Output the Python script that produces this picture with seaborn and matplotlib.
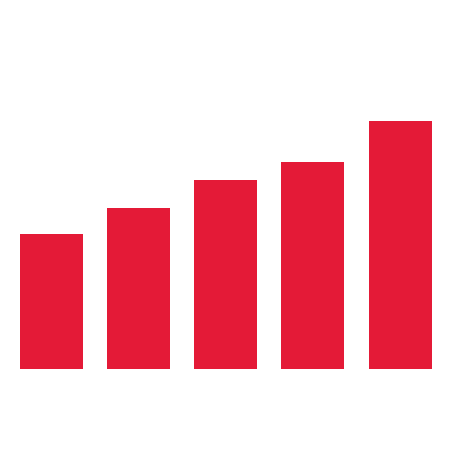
import matplotlib
matplotlib.use("Agg")
import matplotlib.pyplot as plt
import seaborn as sns
import pandas as pd

categories = ["A", "B", "C", "D", "E"]
values = [54.3, 64.9, 76.2, 83.3, 100.0]

df = pd.DataFrame({"category": categories, "value": values})

fig = plt.figure(figsize=(4.52, 4.5), dpi=100)
ax = fig.add_axes([7.9 / 452, (450 - 368.7) / 450, 435.8 / 452, 247.7 / 450])
sns.barplot(data=df, x="category", y="value", color="#E41A37", saturation=1,
            width=0.723, ax=ax, errorbar=None)
ax.set_xlim(-0.5, 4.5)
ax.set_ylim(0, 100)
ax.axis("off")
fig.savefig("out.png", dpi=100, facecolor="white")
